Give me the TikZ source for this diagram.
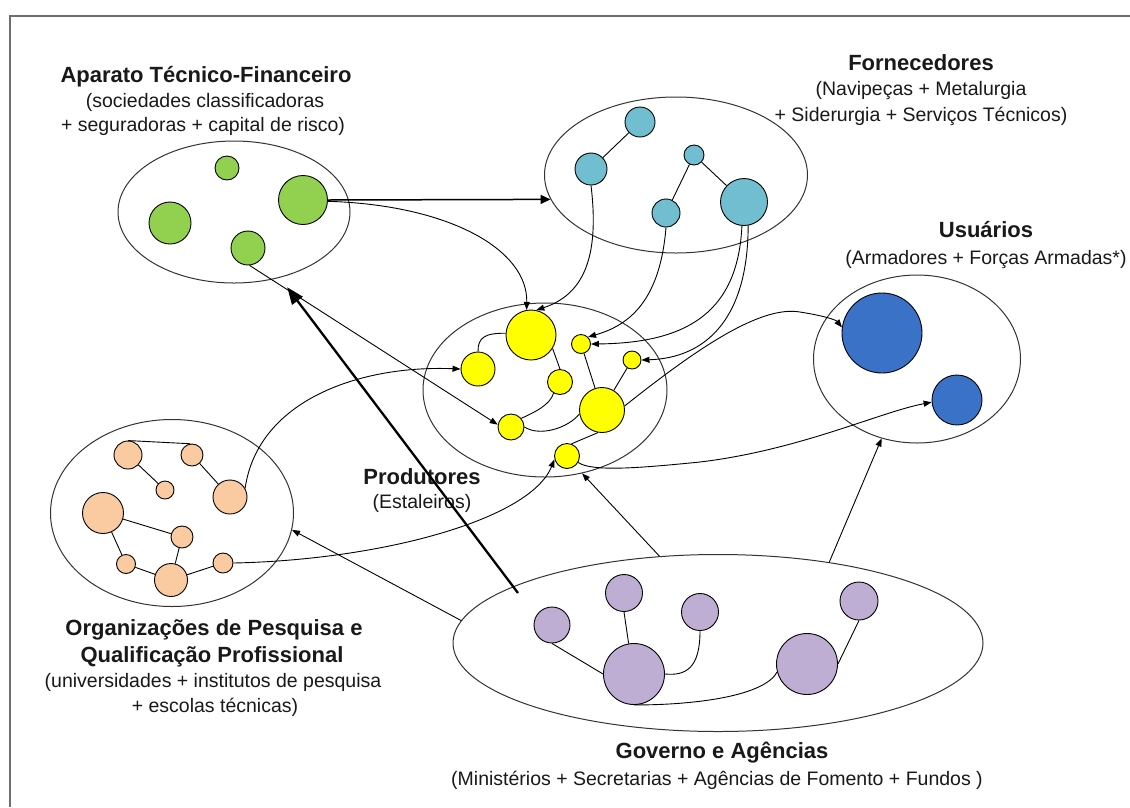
\documentclass[tikz,border=0pt]{standalone}
\usepackage{fontspec}
\setmainfont{Liberation Sans}
\usetikzlibrary{shapes.geometric,arrows.meta}
\definecolor{cgreen}{RGB}{146,208,80}
\definecolor{cblue}{RGB}{112,190,207}
\definecolor{cyel}{RGB}{255,255,0}
\definecolor{cdblue}{RGB}{58,114,200}
\definecolor{corange}{RGB}{250,202,160}
\definecolor{cpurple}{RGB}{191,174,212}
\definecolor{cframe}{RGB}{110,110,110}
\begin{document}
\begin{tikzpicture}[x=1pt,y=-1pt,
  grp/.style={ellipse, draw=black!80, line width=1pt, inner sep=0pt},
  dot/.style={circle, draw=black, line width=0.9pt, inner sep=0pt, minimum size=#1pt},
  gdot/.style={dot=#1, fill=cgreen},
  bdot/.style={dot=#1, fill=cblue},
  ydot/.style={dot=#1, fill=cyel},
  udot/.style={dot=#1, fill=cdblue},
  odot/.style={dot=#1, fill=corange},
  pdot/.style={dot=#1, fill=cpurple},
  link/.style={draw=black, line width=0.9pt},
  arr/.style={link, -{Triangle[length=8pt,width=6pt]}},
  bigarr/.style={draw=black, line width=1.5pt, -{Triangle[length=10pt,width=9pt]}},
  thickarr/.style={draw=black, line width=2.3pt, -{Triangle[length=17pt,width=13pt]}},
  ttl/.style={font=\fontsize{22}{26}\selectfont\bfseries, anchor=base, inner sep=0pt, text=black!90},
  sub/.style={font=\fontsize{19.5}{24}\selectfont, anchor=base, inner sep=0pt, text=black!90},
]
\useasboundingbox (0,0) rectangle (1130,807);
\fill[white] (0,0) rectangle (1130,807);
\draw[cframe, line width=2pt] (1130,16) -- (10,16) -- (10,807);

% group ellipses
\node[grp, minimum width=232pt, minimum height=142pt] (eAp) at (234,212) {};
\node[grp, minimum width=263pt, minimum height=156pt] (eFo) at (676,175) {};
\node[grp, minimum width=207pt, minimum height=168pt] (eUs) at (917,359) {};
\node[grp, minimum width=244pt, minimum height=174pt] (ePr) at (545,390) {};
\node[grp, minimum width=243pt, minimum height=187pt] (eOr) at (172,513) {};
\node[grp, minimum width=530pt, minimum height=177pt] (eGo) at (718,643) {};

% labels
\node[ttl] (apT) at (206,82) {Aparato Técnico-Financeiro};
\node[sub] (apS1) at (205,107) {(sociedades classificadoras};
\node[sub] (apS2) at (203,131) {+ seguradoras + capital de risco)};
\node[ttl] (foT) at (921,70) {Fornecedores};
\node[sub] (foS1) at (921,95) {(Navipeças + Metalurgia};
\node[sub] (foS2) at (921,121) {+ Siderurgia + Serviços Técnicos)};
\node[ttl] (usT) at (986,237) {Usuários};
\node[sub] (usS1) at (986,264) {(Armadores + Forças Armadas*)};
\node[ttl] (prT) at (422,484) {Produtores};
\node[sub] (prS1) at (422,508) {(Estaleiros)};
\node[ttl] (orT1) at (214,635) {Organizações de Pesquisa e};
\node[ttl] (orT2) at (212,662) {Qualificação Profissional};
\node[sub] (orS1) at (213,687) {(universidades + institutos de pesquisa};
\node[sub] (orS2) at (215,712) {+ escolas técnicas)};
\node[ttl] (goT) at (722,758) {Governo e Agências};
\node[sub] (goS1) at (717,785) {(Ministérios + Secretarias + Agências de Fomento + Fundos )};

% green
\node[gdot=24] (ga) at (227,168) {};
\node[gdot=42] (gb) at (170,223) {};
\node[gdot=49] (gc) at (303,200) {};
\node[gdot=34] (gd) at (248,248) {};
% blue
\node[bdot=30] (ba) at (640,122) {};
\node[bdot=32] (bb) at (591,169) {};
\node[bdot=20] (bc) at (694,155) {};
\node[bdot=28] (bd) at (666,213) {};
\node[bdot=47] (be) at (744,202) {};
% yellow
\node[ydot=50] (ya) at (531,335) {};
\node[ydot=34] (yb) at (478,369) {};
\node[ydot=25] (yc) at (560,382) {};
\node[ydot=19] (yd) at (581,344) {};
\node[ydot=18] (ye) at (632,360) {};
\node[ydot=45] (yf) at (602,410) {};
\node[ydot=26] (yg) at (511,427) {};
\node[ydot=25] (yh) at (567,456) {};
% users
\node[udot=80] (ua) at (882,333) {};
\node[udot=50] (ub) at (957,400) {};
% orange
\node[odot=28] (oa) at (128,455) {};
\node[odot=22] (ob) at (192,455) {};
\node[odot=18] (oc) at (165,490) {};
\node[odot=34] (od) at (230,497) {};
\node[odot=41] (oe) at (103,513) {};
\node[odot=22] (of) at (182,537) {};
\node[odot=19] (og) at (126,564) {};
\node[odot=33] (oh) at (171,580) {};
\node[odot=20] (oi) at (223,563) {};
% purple
\node[pdot=36] (pa) at (552,625) {};
\node[pdot=37] (pb) at (624,593) {};
\node[pdot=37] (pc) at (700,612) {};
\node[pdot=61] (pd) at (634,674) {};
\node[pdot=61] (pe) at (807,664) {};
\node[pdot=38] (pf) at (859,601) {};

% green links
\draw[bigarr] (gc.east) -- (eFo.191);
\draw[arr] (gc.-3) .. controls (450,205) and (528,250) .. (ya.100);
\draw[arr] (gd.-85) -- (yg.170);
% blue links
\draw[link] (bb) -- (ba);
\draw[link] (bc) -- (bd);
\draw[link] (bc) -- (be);
\draw[arr] (bb.south) .. controls (600,260) and (582,295) .. (ya.78);
\draw[arr] (bd.south) .. controls (660,300) and (630,325) .. (yd.45);
\draw[arr] (be.-95) .. controls (738,310) and (690,343) .. (yd.east);
\draw[arr] (be.-80) .. controls (748,320) and (705,358) .. (ye.east);
% yellow links
\draw[link] (yb.north) .. controls (478,338) and (484,333) .. (ya.176);
\draw[link] (ya.-32) -- (yc.north);
\draw[link] (yc.-120) .. controls (550,405) and (535,412) .. (yg.40);
\draw[link] (yg.east) .. controls (540,437) and (568,428) .. (yf.190);
\draw[link] (yd) -- (yf);
\draw[link] (ye) -- (yf);
\draw[link] (yh.70) -- (yf.-100);
\draw[arr] (yf.10) .. controls (695,350) and (760,305) .. (800,312) .. controls (825,316) and (836,320) .. (ua.172);
\draw[arr] (yh.-30) .. controls (592,472) and (640,468) .. (700,462) .. controls (800,450) and (880,412) .. (ub.185);
% orange links
\draw[link] (oa.north) -- (ob.100);
\draw[link] (oa) -- (oc);
\draw[link] (ob) -- (od);
\draw[link] (oe) -- (of);
\draw[link] (oe) -- (og);
\draw[link] (og) -- (oh);
\draw[link] (of) -- (oh);
\draw[link] (oh) -- (oi);
\draw[arr] (od.30) .. controls (258,400) and (360,365) .. (yb.west);
\draw[arr] (oi.east) .. controls (380,560) and (530,520) .. (yh.195);
% purple links
\draw[link] (pa.south) -- (pd.west);
\draw[link] (pb.south) -- (pd.100);
\draw[link] (pc.south) .. controls (700,668) and (686,676) .. (pd.east);
\draw[link] (pd.south) .. controls (700,705) and (765,695) .. (pe.195);
\draw[link] (pe.east) -- (pf.south);
% government arrows
\coordinate (thk) at (518,593);
\draw[thickarr, shorten >=12pt] (thk) -- (eAp.-55);
\draw[arr] (eGo.124) -- (ePr.-66);
\draw[arr] (eGo.175) -- (eOr.-8);
\draw[arr] (eGo.36) -- (eUs.-114);
\end{tikzpicture}
\end{document}
